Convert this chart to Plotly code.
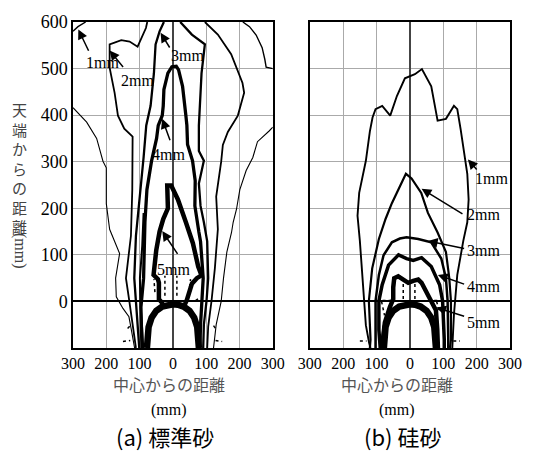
import plotly.graph_objects as go

# ---------------- data ----------------
X_TICKS = [-300, -200, -100, 0, 100, 200, 300]
X_TICK_TEXT = ["300", "200", "100", "0", "100", "200", "300"]
Y_TICKS = [0, 100, 200, 300, 400, 500, 600]
Y_TICK_TEXT = ["0", "100", "200", "300", "400", "500", "600"]

# panel (a) 標準砂
A_1MM_TL_X = [-300, -285, -262]
A_1MM_TL_Y = [580, 590, 600]
A_1MM_TR_X = [210, 230, 250, 268, 276, 280, 300]
A_1MM_TR_Y = [600, 590, 572, 545, 520, 503, 500]
A_OUT_L_X = [-300, -259, -229, -210, -200, -200, -190, -160, -172, -170, -150, -132, -125, -115]
A_OUT_L_Y = [416, 385, 350, 301, 287, 210, 155, 103, 50, 10, -15, -33, -60, -100]
A_OUT_R_X = [300, 289, 254, 240, 220, 201, 191, 181, 176, 162, 152, 145, 130, 122]
A_OUT_R_Y = [374, 366, 343, 309, 281, 240, 198, 170, 148, 106, 50, 0, -50, -100]
A_2MM_L_X = [-77, -81, -106, -130, -155, -190, -190, -175, -165, -146, -121, -121, -122, -126, -141, -131, -121, -111]
A_2MM_L_Y = [600, 587, 547, 558, 561, 552, 502, 448, 399, 371, 354, 290, 239, 141, 50, 1, -54, -100]
A_2MM_R_X = [96, 135, 175, 209, 214, 195, 165, 150, 145, 130, 135, 126, 116, 106, 103]
A_2MM_R_Y = [600, 573, 531, 469, 448, 399, 364, 336, 300, 225, 155, 71, 1, -54, -100]
A_3MM_L_X = [-27, -40, -52, -57, -67, -80, -88, -95, -101, -111, -116, -111, -104, -101]
A_3MM_L_Y = [600, 580, 552, 490, 420, 378, 309, 260, 210, 141, 50, 0, -54, -100]
A_3MM_R_X = [22, 57, 96, 86, 81, 78, 78, 93, 78, 83, 93, 103, 106, 101, 93, 91]
A_3MM_R_Y = [600, 573, 552, 490, 420, 378, 323, 302, 253, 205, 170, 129, 50, 1, -50, -100]
A_EXTRA_X = [-88, -92, -99, -98, -93, -89]
A_EXTRA_Y = [190, 120, 50, 0, -50, -100]
A_4MM_X = [-93, -96, -88, -86, -84, -78, -64, -49, -44, -32, -29, -27, -15, -3, 10, 17, 29, 39, 42, 44, 59, 67, 66, 78, 83, 91, 86, 83, 81]
A_4MM_Y = [-100, -12, 50, 128, 170, 240, 302, 350, 378, 399, 420, 455, 490, 504, 505, 497, 462, 399, 378, 337, 302, 259, 205, 149, 129, 50, 1, -50, -100]
A_5MM_X = [-30, -42, -42, -45, -58, -50, -40, -29, -15, -17, -5, 15, 39, 60, 76, 86, 72, 57, 42, 35]
A_5MM_Y = [-5, 5, 40, 48, 57, 110, 150, 177, 200, 249, 249, 219, 170, 125, 75, 56, 50, 38, 3, -8]
A_ARCH_X = [-78, -77, -73, -64, -50, -32, -15, 0, 15, 32, 50, 64, 73, 77, 78]
A_ARCH_Y = [-100, -80, -55, -35, -20, -11, -7, -6, -7, -11, -20, -35, -55, -80, -100]
A_DOTS = [
    ([-54, -57], [20, 48]),
    ([-24, -24], [12, 55]),
    ([12, 12], [12, 55]),
    ([48, 53], [18, 48]),
    ([-150, -128], [-86, -84]),
    ([128, 148], [-84, -86]),
    ([-136, -128], [-58, -52]),
    ([122, 128], [-52, -58]),
    ([68, 80], [2, 8]),
]

# panel (b) 硅砂
B_1MM_X = [-118, -122, -132, -137, -145, -150, -157, -152, -132, -120, -112, -103, -83, -59, -39, -15, 0, 15, 36,
           64, 83, 108, 132, 142, 152, 162, 172, 176, 172, 160, 152, 142, 132, 127]
B_1MM_Y = [-100, -90, -51, 8, 80, 130, 184, 233, 302, 365, 395, 413, 420, 399, 441, 479, 484, 488, 499,
           462, 388, 392, 420, 413, 370, 323, 274, 219, 170, 130, 100, 57, -28, -100]
B_2MM_X = [-120, -118, -123, -113, -93, -73, -54, -44, -12, 5, 34, 54, 83, 108, 118, 123, 123, 120]
B_2MM_Y = [-100, -82, 1, 71, 134, 177, 211, 226, 274, 264, 233, 190, 148, 106, 50, 1, -82, -100]
B_3MM_X = [-103, -103, -93, -79, -54, -30, -10, 25, 64, 94, 108, 113, 115, 115]
B_3MM_Y = [-100, 1, 57, 99, 127, 135, 138, 134, 127, 92, 50, 1, -82, -100]
B_4MM_X = [-89, -93, -93, -83, -64, -34, -10, 10, 35, 64, 89, 98, 103, 103]
B_4MM_Y = [-100, -61, 1, 36, 78, 100, 92, 88, 94, 75, 36, 1, -82, -100]
B_5MM_X = [-84, -75, -60, -50, -50, -47, -35, -20, -5, 10, 25, 35, 50, 64, 78, 82, 84]
B_5MM_Y = [-100, -45, -12, 5, 30, 50, 54, 48, 40, 44, 47, 40, 20, 1, -19, -60, -100]
B_ARCH_X = [-78, -77, -73, -64, -50, -32, -15, 0, 15, 32, 50, 64, 73, 77, 78]
B_ARCH_Y = [-100, -80, -55, -35, -20, -11, -7, -6, -7, -11, -20, -35, -55, -80, -100]
B_DOTS = [
    ([-20, -20], [5, 45]),
    ([15, 15], [5, 45]),
    ([-85, -76], [0, -30]),
    ([80, 90], [0, -25]),
    ([-82, -55], [2, 2]),
    ([55, 82], [2, 2]),
    ([-150, -130], [-85, -85]),
    ([130, 150], [-85, -85]),
]

# label texts, positions, arrow tips and tails
A_LABELS = ["1mm", "2mm", "3mm", "4mm", "5mm"]
A_LABEL_X = [-212, -107, 44, -12, 2]
A_LABEL_Y = [514, 474, 529, 315, 68]
A_TIP_X = [-284, -190, -37, -32, -32]
A_TIP_Y = [584, 539, 577, 392, 151]
A_TAIL_X = [-251, -146, -7, -7, 17]
A_TAIL_Y = [535, 500, 542, 343, 99]

B_LABELS = ["1mm", "2mm", "3mm", "4mm", "5mm"]
B_LABEL_X = [245, 221, 221, 221, 221]
B_LABEL_Y = [265, 187, 110, 33, -46]
B_TIP_X = [174, 35, 54, 84, 79]
B_TIP_Y = [305, 242, 130, 57, -13]
B_TAIL_X = [204, 162, 167, 167, 167]
B_TAIL_Y = [280, 186, 113, 36, -33]

SERIF = "Liberation Serif"
CJK = "Noto Sans CJK JP"

fig = go.Figure()


def add_line(xs, ys, width, axis="a", dash="solid"):
    fig.add_trace(go.Scatter(
        x=xs, y=ys, mode="lines",
        line=dict(color="black", width=width, dash=dash),
        xaxis="x" if axis == "a" else "x2",
        yaxis="y" if axis == "a" else "y2",
        hoverinfo="skip", showlegend=False,
    ))


# panel (a)
add_line(A_1MM_TL_X, A_1MM_TL_Y, 1.4)
add_line(A_1MM_TR_X, A_1MM_TR_Y, 1.4)
add_line(A_OUT_L_X, A_OUT_L_Y, 1.1)
add_line(A_OUT_R_X, A_OUT_R_Y, 1.1)
add_line(A_2MM_L_X, A_2MM_L_Y, 1.8)
add_line(A_2MM_R_X, A_2MM_R_Y, 1.8)
add_line(A_3MM_L_X, A_3MM_L_Y, 2.3)
add_line(A_3MM_R_X, A_3MM_R_Y, 2.3)
add_line(A_EXTRA_X, A_EXTRA_Y, 2.0)
add_line(A_4MM_X, A_4MM_Y, 3.3)
add_line(A_5MM_X, A_5MM_Y, 4.5)
add_line(A_ARCH_X, A_ARCH_Y, 6.5)
for dx, dy in A_DOTS:
    add_line(dx, dy, 1.5, dash="dot")

# panel (b)
add_line(B_1MM_X, B_1MM_Y, 1.9, "b")
add_line(B_2MM_X, B_2MM_Y, 2.2, "b")
add_line(B_3MM_X, B_3MM_Y, 2.5, "b")
add_line(B_4MM_X, B_4MM_Y, 3.5, "b")
add_line(B_5MM_X, B_5MM_Y, 4.5, "b")
add_line(B_ARCH_X, B_ARCH_Y, 6.5, "b")
for dx, dy in B_DOTS:
    add_line(dx, dy, 1.5, "b", dash="dot")

annotations = []


def add_labels(labels, lx, ly, tx, ty, sx, sy, xr, yr):
    for i, t in enumerate(labels):
        annotations.append(dict(
            x=lx[i], y=ly[i], xref=xr, yref=yr, text=t, showarrow=False,
            font=dict(family=SERIF, size=16, color="black"),
        ))
        annotations.append(dict(
            x=tx[i], y=ty[i], xref=xr, yref=yr, ax=sx[i], ay=sy[i],
            axref=xr, ayref=yr, text="", showarrow=True,
            arrowhead=2, arrowsize=1.3, arrowwidth=1.5, arrowcolor="black",
            standoff=0, startstandoff=0,
        ))


add_labels(A_LABELS, A_LABEL_X, A_LABEL_Y, A_TIP_X, A_TIP_Y, A_TAIL_X, A_TAIL_Y, "x", "y")
add_labels(B_LABELS, B_LABEL_X, B_LABEL_Y, B_TIP_X, B_TIP_Y, B_TAIL_X, B_TAIL_Y, "x2", "y2")

# axis titles and captions
annotations.append(dict(
    x=-0.1216, y=0.552, xref="paper", yref="paper", xanchor="center", yanchor="middle",
    text="<br>".join(list("天端からの距離")), showarrow=False,
    font=dict(family=CJK, size=15, color="#444"),
))
annotations.append(dict(
    x=-0.1216, y=0.298, xref="paper", yref="paper", xanchor="center", yanchor="middle",
    text="(mm)", textangle=90, showarrow=False,
    font=dict(family=SERIF, size=16, color="#444"),
))
for cx, cap_x, cap in [(0.2207, 0.2095, "(a) 標準砂"), (0.741, 0.7545, "(b) 硅砂")]:
    annotations.append(dict(
        x=cx, y=-0.110, xref="paper", yref="paper", xanchor="center", yanchor="middle",
        text="中心からの距離", showarrow=False,
        font=dict(family=CJK, size=16, color="#555"),
    ))
    annotations.append(dict(
        x=cx, y=-0.1916, xref="paper", yref="paper", xanchor="center", yanchor="middle",
        text="(mm)", showarrow=False,
        font=dict(family=SERIF, size=16, color="black"),
    ))
    annotations.append(dict(
        x=cap_x, y=-0.2695, xref="paper", yref="paper", xanchor="center", yanchor="middle",
        text=cap, showarrow=False,
        font=dict(family=CJK, size=22, color="black"),
    ))

xcommon = dict(
    range=[-300, 300], tickvals=X_TICKS, ticktext=X_TICK_TEXT,
    showgrid=True, gridcolor="#aaaaaa", gridwidth=1.3,
    zeroline=True, zerolinecolor="#444444", zerolinewidth=1.5,
    showline=True, mirror=True, linecolor="black", linewidth=1.5,
    ticks="", tickfont=dict(family=SERIF, size=16, color="black"),
    fixedrange=True,
)
ycommon = dict(
    range=[-100, 600], tickvals=Y_TICKS, ticktext=Y_TICK_TEXT,
    showgrid=True, gridcolor="#aaaaaa", gridwidth=1.3,
    zeroline=True, zerolinecolor="black", zerolinewidth=1.5,
    showline=True, mirror=True, linecolor="black", linewidth=1.5,
    ticks="", tickfont=dict(family=SERIF, size=18, color="black"),
    fixedrange=True,
)

fig.update_layout(
    width=534, height=457,
    margin=dict(l=73, r=17, t=14, b=109),
    paper_bgcolor="white", plot_bgcolor="white",
    showlegend=False,
    font=dict(family=SERIF, color="black"),
    xaxis=dict(domain=[0, 0.4572], anchor="y", **xcommon),
    xaxis2=dict(domain=[0.5419, 1.0], anchor="y2", **xcommon),
    yaxis=dict(anchor="x", **ycommon),
    yaxis2=dict(anchor="x2", matches="y", showticklabels=False,
                **{k: v for k, v in ycommon.items() if k not in ("tickfont",)}),
    annotations=annotations,
)

fig.write_html("out.html")
